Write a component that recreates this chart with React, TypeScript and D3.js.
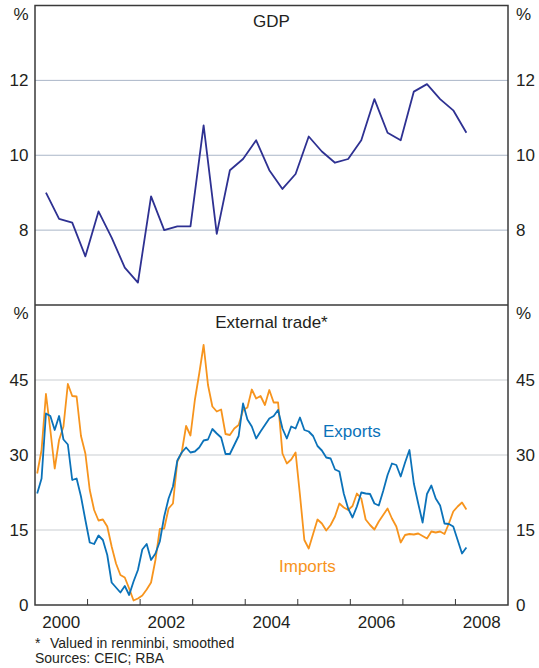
import * as d3 from "d3";

// GDP, year-ended % change, quarterly from Mar 2000 to Mar 2008
const gdpStartYear = 2000;
const gdp = [
  9.0, 8.3, 8.2, 7.3, 8.5, 7.8, 7.0, 6.6, 8.9, 8.0, 8.1, 8.1, 10.8, 7.9, 9.6, 9.9,
  10.4, 9.6, 9.1, 9.5, 10.5, 10.1, 9.8, 9.9, 10.4, 11.5, 10.6, 10.4, 11.7, 11.9, 11.5,
  11.2, 10.6,
];

// External trade, year-ended % change, monthly from Jan 2000 to Mar 2008
const exportsSeries = [
  22.3, 25.3, 38.3, 37.8, 35.0, 37.8, 33.1, 32.1, 25.0, 25.3, 21.7, 17.0,
  12.5, 12.2, 13.9, 13.0, 10.0, 4.5, 3.5, 2.5, 3.8, 2.0, 4.7, 7.0,
  11.1, 12.2, 9.0, 10.3, 12.7, 17.7, 21.3, 23.7, 28.9, 30.5, 31.5, 30.5,
  30.7, 31.5, 32.9, 33.1, 35.2, 34.3, 33.5, 30.2, 30.2, 32.0, 33.8, 40.3,
  37.1, 35.7, 33.3, 34.7, 36.0, 37.3, 37.8, 39.0, 35.3, 33.3, 35.7, 35.3,
  37.5, 35.0, 34.7, 33.8, 31.8, 30.9, 29.5, 29.3, 27.1, 26.7, 22.3, 19.3,
  17.5, 19.7, 22.5, 22.3, 22.2, 20.3, 19.9, 22.8, 26.0, 28.3, 28.0, 25.7,
  28.5, 31.0, 24.3, 20.3, 16.5, 22.2, 23.9, 21.3, 19.9, 16.3, 16.2, 15.7,
  13.0, 10.3, 11.5,
];
const importsSeries = [
  26.3, 31.0, 42.2, 35.0, 27.3, 33.0, 35.7, 44.2, 41.8, 41.7, 33.8, 30.3,
  23.0, 19.0, 16.9, 17.1, 15.7, 11.7, 8.3, 6.0, 5.5, 3.3, 0.9, 1.3,
  1.9, 3.1, 4.5, 9.0, 15.2, 15.3, 19.3, 20.3, 28.7, 30.5, 35.8, 33.9,
  41.0, 46.3, 52.0, 44.0, 39.7, 38.7, 39.1, 34.2, 34.0, 35.3, 36.0, 39.0,
  39.5, 43.1, 41.3, 41.8, 40.0, 43.0, 40.5, 40.5, 30.3, 28.3, 29.1, 30.5,
  22.0, 13.0, 11.3, 14.2, 17.1, 16.3, 14.9, 16.0, 17.7, 20.3, 19.5, 19.0,
  19.8, 22.3, 21.3, 17.1, 16.0, 15.1, 16.7, 18.0, 19.3, 17.3, 15.7, 12.5,
  14.0, 14.2, 14.1, 14.3, 13.8, 13.3, 14.7, 14.5, 14.7, 14.2, 16.3, 18.7,
  19.7, 20.5, 19.1,
];

const yearLabels = [2000, 2002, 2004, 2006, 2008];
const yearTicks = [2001, 2002, 2003, 2004, 2005, 2006, 2007, 2008];
const gdpTicks = [8, 10, 12];
const tradeTicks = [0, 15, 30, 45];

const W = 539;
const H = 668;
const left = 35;
const right = 508;
const top = 5.5;
const mid = 305;
const bottom = 605;

const font = "Arial, 'Liberation Sans', Helvetica, sans-serif";
const textColor = "#231f20";
const frameColor = "#3a3a3a";

export default function App() {
  const x = d3.scaleLinear().domain([2000, 2009]).range([left, right]);
  const yTop = d3.scaleLinear().domain([6, 14]).range([mid, top]);
  const yBot = d3.scaleLinear().domain([0, 60]).range([bottom, mid]);

  const gdpLine = d3
    .line<number>()
    .x((_, i) => x(gdpStartYear + (3 * i + 2.5) / 12))
    .y((d) => yTop(d));

  const tradeLine = d3
    .line<number>()
    .x((_, i) => x(2000 + (i + 0.5) / 12))
    .y((d) => yBot(d));

  return (
    <svg
      width={W}
      height={H}
      style={{ position: "absolute", left: 0, top: 0, background: "#fff" }}
      fontFamily={font}
    >
      {/* grid lines */}
      {gdpTicks.map((t) => (
        <line key={"gt" + t} x1={left} x2={right} y1={yTop(t)} y2={yTop(t)} stroke="#aab6c8" strokeWidth={1} />
      ))}
      {tradeTicks
        .filter((t) => t > 0)
        .map((t) => (
          <line key={"bt" + t} x1={left} x2={right} y1={yBot(t)} y2={yBot(t)} stroke="#c9cdd2" strokeWidth={1.2} />
        ))}

      {/* series */}
      <path d={gdpLine(gdp) ?? ""} fill="none" stroke="#2e3192" strokeWidth={1.8} strokeLinejoin="round" />
      <path d={tradeLine(importsSeries) ?? ""} fill="none" stroke="#f7941d" strokeWidth={1.8} strokeLinejoin="round" />
      <path d={tradeLine(exportsSeries) ?? ""} fill="none" stroke="#0b72b9" strokeWidth={1.8} strokeLinejoin="round" />

      {/* frame */}
      <rect x={left} y={top} width={right - left} height={bottom - top} fill="none" stroke={frameColor} strokeWidth={1.5} />
      <line x1={left} x2={right} y1={mid} y2={mid} stroke={frameColor} strokeWidth={1.5} />

      {/* x ticks */}
      {yearTicks.map((yr) => (
        <line key={"xt" + yr} x1={x(yr)} x2={x(yr)} y1={bottom} y2={bottom - 6} stroke={frameColor} strokeWidth={1} />
      ))}

      {/* y labels */}
      <g fontSize={17} fill={textColor}>
        {gdpTicks.map((t) => (
          <g key={"gl" + t}>
            <text x={28.5} y={yTop(t) + 6} textAnchor="end">{t}</text>
            <text x={516} y={yTop(t) + 6}>{t}</text>
          </g>
        ))}
        {tradeTicks.map((t) => (
          <g key={"bl" + t}>
            <text x={28.5} y={yBot(t) + 6} textAnchor="end">{t}</text>
            <text x={516} y={yBot(t) + 6}>{t}</text>
          </g>
        ))}
        <text x={28.5} y={20} textAnchor="end">%</text>
        <text x={516} y={20}>%</text>
        <text x={28.5} y={319} textAnchor="end">%</text>
        <text x={516} y={319}>%</text>

        {/* titles */}
        <text x={271.5} y={26.5} textAnchor="middle">GDP</text>
        <text x={271.5} y={327.5} textAnchor="middle">External trade*</text>

        {/* x labels */}
        {yearLabels.map((yr) => (
          <text key={"xl" + yr} x={x(yr + 0.5)} y={628} textAnchor="middle">{yr}</text>
        ))}

        {/* series labels */}
        <text x={323} y={437} fill="#0b72b9">Exports</text>
        <text x={279} y={572} fill="#f7941d">Imports</text>
      </g>

      {/* notes */}
      <g fontSize={14} fill={textColor}>
        <text x={35} y={648}>*</text>
        <text x={50} y={648}>Valued in renminbi, smoothed</text>
        <text x={35} y={663}>Sources: CEIC; RBA</text>
      </g>
    </svg>
  );
}
